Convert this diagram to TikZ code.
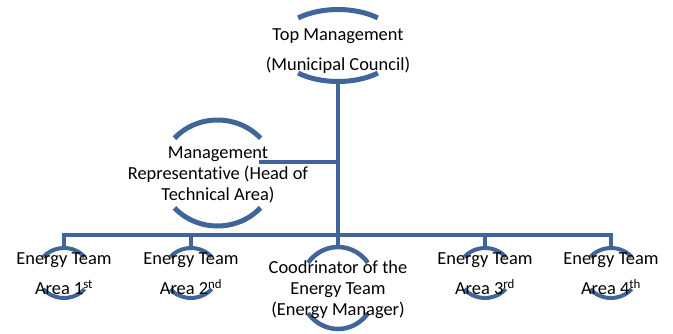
\documentclass[tikz,border=0pt]{standalone}
\usepackage{fontspec}
\setmainfont{Carlito}[Ligatures=CommonOff]
\definecolor{orgblue}{RGB}{64,101,152}
\newcommand\halfcirc[5]{%
  \draw[draw=orgblue, line width=#5pt] ([shift={(#4:#2pt and #3pt)}]#1) arc[start angle=#4, end angle=180-#4, x radius=#2pt, y radius=#3pt];
  \draw[draw=orgblue, line width=#5pt] ([shift={(180+#4:#2pt and #3pt)}]#1) arc[start angle=180+#4, end angle=360-#4, x radius=#2pt, y radius=#3pt];
}
\begin{document}
\begin{tikzpicture}[x=1pt,y=-1pt,
  conn/.style={draw=orgblue, line width=4pt},
  lbltwo/.style={align=center, inner sep=0pt, text=black, font=\fontsize{18.4}{30}\selectfont},
  lblthree/.style={align=center, inner sep=0pt, text=black, font=\fontsize{18.4}{21}\selectfont}]
\useasboundingbox (0,0) rectangle (673,333);
% ellipse centres
\coordinate (topC) at (338,45.5);
\coordinate (mrC) at (217.5,173);
\coordinate (a1C) at (64,273);
\coordinate (a2C) at (191,273);
\coordinate (coC) at (338,288);
\coordinate (a3C) at (485,273);
\coordinate (a4C) at (611,273);
% connector points
\coordinate (topS) at (338,81.5);
\coordinate (coN) at (338,247.5);
\coordinate (a1N) at (64,248);
\coordinate (a2N) at (191,248);
\coordinate (a3N) at (485,248);
\coordinate (a4N) at (611,248);
\coordinate (bar) at (338,235);
\coordinate (mrE) at (259,162);
% connectors
\draw[conn] (topS) -- (coN);
\draw[conn] (mrE) -- (mrE -| topS);
\draw[conn] (a1N) -- (a1N |- bar) -- (a4N |- bar) -- (a4N);
\draw[conn] (a2N) -- (a2N |- bar);
\draw[conn] (a3N) -- (a3N |- bar);
% half circles
\halfcirc{topC}{62}{36}{50}{5}
\halfcirc{mrC}{57}{53}{41}{5}
\halfcirc{a1C}{27}{25}{40}{4}
\halfcirc{a2C}{27}{25}{40}{4}
\halfcirc{coC}{38}{41}{38}{4.5}
\halfcirc{a3C}{27}{25}{40}{4}
\halfcirc{a4C}{27}{25}{40}{4}
% labels
\node[lbltwo] (top) at (338,51) {Top Management\\(Municipal Council)};
\node[lblthree] (mr) at (218,175) {Management\\Representative (Head of\\Technical Area)};
\node[lbltwo] (a1) at (64,274) {Energy Team\\Area 1\textsuperscript{st}};
\node[lbltwo] (a2) at (191,274) {Energy Team\\Area 2\textsuperscript{nd}};
\node[lblthree] (co) at (338,290) {Coodrinator of the\\Energy Team\\(Energy Manager)};
\node[lbltwo] (a3) at (485,274) {Energy Team\\Area 3\textsuperscript{rd}};
\node[lbltwo] (a4) at (611,274) {Energy Team\\Area 4\textsuperscript{th}};
\end{tikzpicture}
\end{document}
